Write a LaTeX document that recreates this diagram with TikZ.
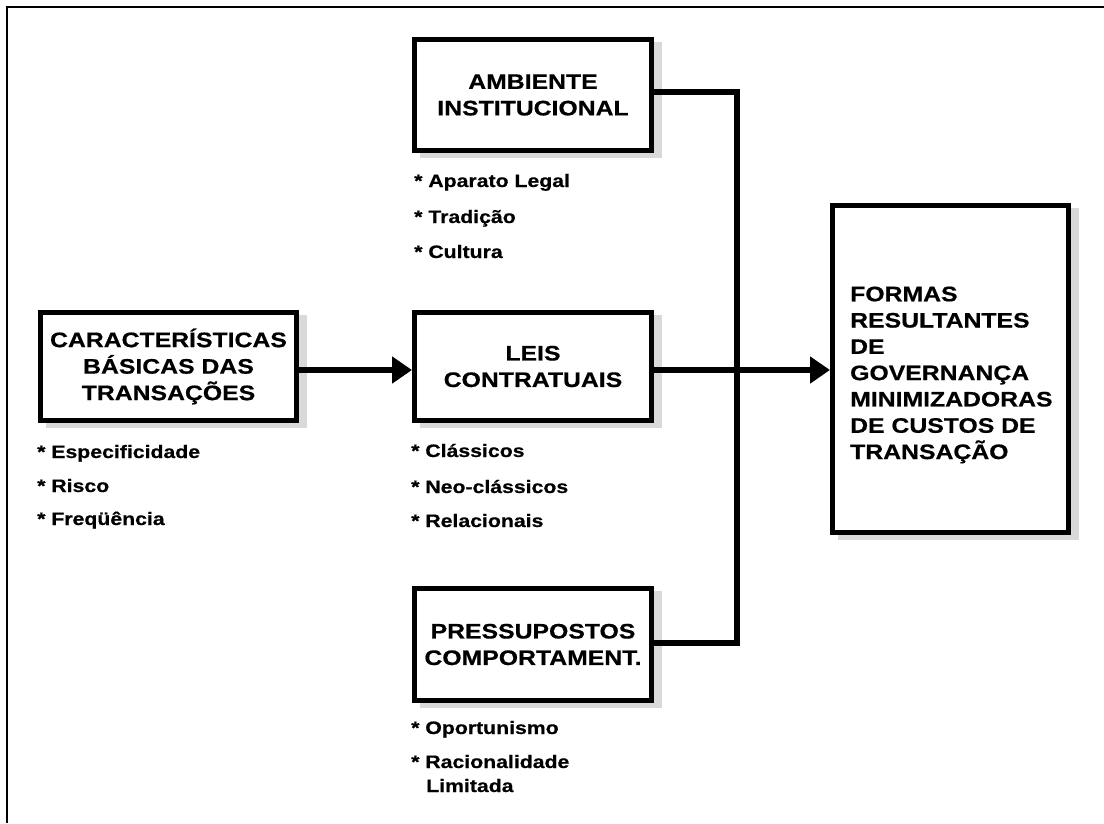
\documentclass[tikz,border=0pt]{standalone}
\usepackage{fontspec}
\setmainfont{Liberation Sans}[FakeStretch=1.18, BoldFeatures={FakeBold=0.6}]
\usetikzlibrary{arrows.meta}

\definecolor{shade}{HTML}{D9D9D9}

\tikzset{
  x=1pt, y=-1pt,
  box/.style={draw, line width=5pt, fill=white, inner sep=0pt, align=center,
    font=\fontsize{21}{26.5}\selectfont\bfseries,
    preaction={fill=shade, draw=shade, transform canvas={xshift=8pt, yshift=-5pt}}},
  bullet/.style={anchor=base west, inner sep=0pt, font=\fontsize{18}{22}\selectfont\bfseries},
  link/.style={line width=6pt, line join=miter},
  flow/.style={link, -{Triangle[length=20pt, width=26pt]}}
}

\begin{document}
\begin{tikzpicture}
  \useasboundingbox (0,0) rectangle (1104,823);

  % page frame (top and left edges)
  \draw[line width=2.5pt] (7,823) -- (7,7) -- (1104,7);

  % boxes
  \node[box, minimum width=237pt, minimum height=111pt] (amb) at (533,95)
    {AMBIENTE\\INSTITUCIONAL};
  \node[box, minimum width=256pt, minimum height=108pt] (car) at (168.5,366.5)
    {CARACTERÍSTICAS\\BÁSICAS DAS\\TRANSAÇÕES};
  \node[box, minimum width=237pt, minimum height=108pt] (leis) at (533,366.5)
    {LEIS\\CONTRATUAIS};
  \node[box, minimum width=237pt, minimum height=112pt] (pres) at (533,644.5)
    {PRESSUPOSTOS\\COMPORTAMENT.};
  \node[box, minimum width=236pt, minimum height=327pt] (formas) at (950.5,369) {};
  \node[anchor=west, align=left, inner sep=0pt,
        font=\fontsize{21}{26.3}\selectfont\bfseries] (formastxt) at (850,375)
    {FORMAS\\RESULTANTES\\DE\\GOVERNANÇA\\MINIMIZADORAS\\DE CUSTOS DE\\TRANSAÇÃO};

  % item lists
  \node[bullet] (amb1) at (414,187) {* Aparato Legal};
  \node[bullet] (amb2) at (414,223) {* Tradição};
  \node[bullet] (amb3) at (414,258) {* Cultura};

  \node[bullet] (car1) at (37,458) {* Especificidade};
  \node[bullet] (car2) at (37,492) {* Risco};
  \node[bullet] (car3) at (37,525) {* Freqüência};

  \node[bullet] (leis1) at (411,457) {* Clássicos};
  \node[bullet] (leis2) at (411,493) {* Neo-clássicos};
  \node[bullet] (leis3) at (411,527) {* Relacionais};

  \node[bullet] (pres1) at (411,734) {* Oportunismo};
  \node[bullet] (pres2) at (411,768) {* Racionalidade};
  \node[bullet] (pres3) at (426,792) {Limitada};

  % connectors
  \coordinate (bus) at (737,370);
  \draw[flow] (car.east |- bus) -- (leis.west |- bus);
  \draw[flow] (leis.east |- bus) -- (formas.west |- bus);
  \draw[link] (amb.east |- 0,92) -| (bus) |- (pres.east |- 0,643);
\end{tikzpicture}
\end{document}
